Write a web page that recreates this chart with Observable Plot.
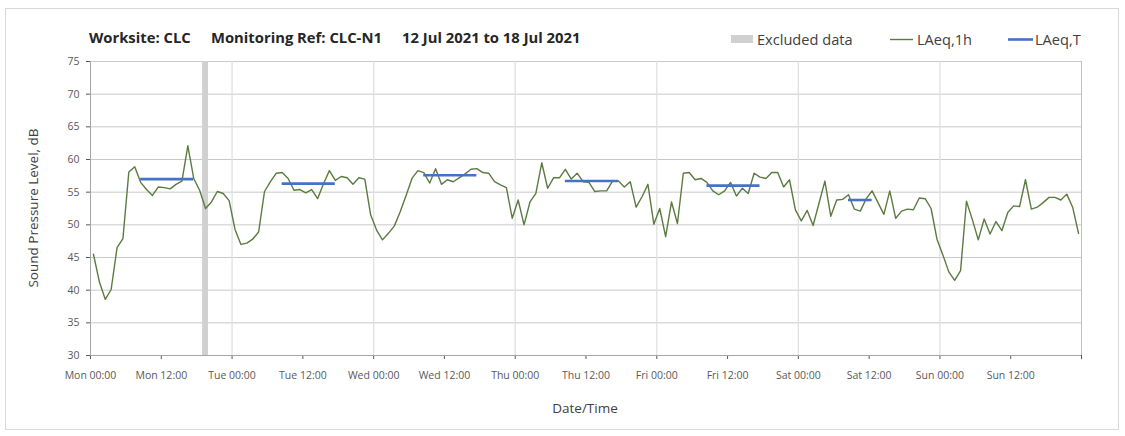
<!DOCTYPE html>
<html>
<head>
<meta charset="utf-8">
<script src="https://cdn.jsdelivr.net/npm/d3@7"></script>
<script src="https://cdn.jsdelivr.net/npm/@observablehq/plot@0.6"></script>
<style>
html, body { margin: 0; padding: 0; background: #fff; }
#wrap { position: relative; width: 1125px; height: 436px; overflow: hidden; font-family: "Open Sans", sans-serif; }
#frame { position: absolute; left: 5px; top: 8px; width: 1114px; height: 422px; border: 1px solid #d9d9d9; box-sizing: border-box; }
#chart { position: absolute; left: 0; top: 0; }
#overlay { position: absolute; left: 0; top: 0; pointer-events: none; }
</style>
</head>
<body>
<div id="wrap">
  <div id="frame"></div>
  <div id="chart"></div>
  <svg id="overlay" width="1125" height="436" xmlns="http://www.w3.org/2000/svg"></svg>
</div>
<script>
// ---- Data ----
const titleParts = ["Worksite: CLC", "Monitoring Ref: CLC-N1", "12 Jul 2021 to 18 Jul 2021"];
const legendLabels = ["Excluded data", "LAeq,1h", "LAeq,T"];
const yTitle = "Sound Pressure Level, dB";
const xTitle = "Date/Time";

// hourly LAeq,1h values, Mon 00:00 .. Sun 23:00 (one per hour)
const laeq1h = [
  45.5, 41.3, 38.6, 40.1, 46.5, 47.9, 58.1, 58.9, 56.5, 55.4, 54.5, 55.8,
  55.7, 55.5, 56.2, 56.7, 62.1, 57.1, 55.3, 52.5, 53.5, 55.1, 54.8, 53.7,
  49.3, 47.0, 47.2, 47.8, 48.9, 55.1, 56.6, 57.9, 58.0, 57.1, 55.3, 55.4,
  54.9, 55.4, 54.0, 56.3, 58.3, 56.8, 57.4, 57.2, 56.2, 57.2, 57.0, 51.5,
  49.2, 47.7, 48.7, 49.8, 52.0, 54.5, 57.1, 58.3, 58.0, 56.4, 58.6, 56.2,
  56.9, 56.6, 57.2, 57.8, 58.5, 58.6, 58.0, 57.9, 56.6, 56.1, 55.7, 51.0,
  53.8, 50.0, 53.5, 54.8, 59.5, 55.6, 57.2, 57.2, 58.5, 57.0, 57.9, 56.6,
  56.5, 55.1, 55.2, 55.2, 56.7, 56.7, 55.8, 56.6, 52.7, 54.3, 56.2, 50.1,
  52.5, 48.2, 53.5, 50.2, 57.9, 58.0, 56.9, 57.1, 56.5, 55.2, 54.6, 55.2,
  56.5, 54.4, 55.6, 54.8, 57.9, 57.3, 57.1, 58.0, 58.0, 55.8, 56.9, 52.3,
  50.6, 52.2, 49.9, 53.3, 56.7, 51.3, 53.8, 53.9, 54.6, 52.4, 52.1, 54.0,
  55.2, 53.4, 51.6, 55.2, 51.0, 52.1, 52.4, 52.3, 54.1, 54.0, 52.5, 47.8,
  45.4, 42.8, 41.5, 43.0, 53.6, 50.8, 47.7, 50.9, 48.6, 50.5, 49.1, 51.9,
  52.9, 52.8, 56.9, 52.4, 52.7, 53.4, 54.2, 54.2, 53.8, 54.7, 52.7, 48.7
];

// LAeq,T periods: start hour / end hour (hours from Mon 00:00) and level
const periodStart = [8, 32, 56, 80, 104, 128];
const periodEnd   = [18, 42, 66, 90, 114, 133];
const periodValue = [57.0, 56.3, 57.6, 56.7, 56.0, 53.8];

// excluded data window (hours from Mon 00:00)
const excludedStart = [19];
const excludedEnd = [20];

const xTickHours = [0, 12, 24, 36, 48, 60, 72, 84, 96, 108, 120, 132, 144, 156, 168];
const xTickLabels = ["Mon 00:00", "Mon 12:00", "Tue 00:00", "Tue 12:00", "Wed 00:00", "Wed 12:00",
  "Thu 00:00", "Thu 12:00", "Fri 00:00", "Fri 12:00", "Sat 00:00", "Sat 12:00",
  "Sun 00:00", "Sun 12:00", ""];
const dayLines = [24, 48, 72, 96, 120, 144];
const yTicks = [30, 35, 40, 45, 50, 55, 60, 65, 70, 75];
const yGrid = [35, 40, 45, 50, 55, 60, 65, 70, 75];

// ---- Build ----
const lineData = laeq1h.map((v, i) => ({ h: i + 0.5, v }));
const periods = periodValue.map((v, i) => ({ x1: periodStart[i] + 0.5, x2: periodEnd[i] - 0.5, v }));
const excluded = excludedStart.map((s, i) => ({ start: s, end: excludedEnd[i] }));

const chart = Plot.plot({
  width: 1125,
  height: 436,
  marginLeft: 90,
  marginRight: 44,
  marginTop: 61,
  marginBottom: 81,
  style: { fontFamily: '"Open Sans", sans-serif', fontSize: "10.5px", color: "#595959", background: "transparent", overflow: "visible" },
  x: { domain: [0, 168], ticks: xTickHours, tickFormat: d => xTickLabels[xTickHours.indexOf(d)] ?? "", tickSize: 4, tickPadding: 12, label: null },
  y: { domain: [30, 75], ticks: yTicks, tickSize: 4, tickPadding: 7, label: null },
  marks: [
    Plot.ruleY(yGrid, { stroke: "#c9c9c9", strokeOpacity: 1 }),
    Plot.ruleX(dayLines, { stroke: "#e0e0e0", strokeWidth: 1.3, strokeOpacity: 1 }),
    Plot.ruleX([168], { stroke: "#bfbfbf", strokeOpacity: 1 }),
    Plot.rect(excluded, { x1: "start", x2: "end", y1: 30, y2: 75, fill: "#d0d0d0" }),
    Plot.ruleX([0], { stroke: "#a6a6a6", strokeOpacity: 1 }),
    Plot.ruleY([30], { stroke: "#a6a6a6", strokeOpacity: 1 }),
    Plot.line(lineData, { x: "h", y: "v", stroke: "#5b7b41", strokeWidth: 1.4 }),
    Plot.ruleY(periods, { x1: "x1", x2: "x2", y: "v", stroke: "#4472c4", strokeWidth: 2.6, strokeOpacity: 1 })
  ]
});
document.getElementById("chart").appendChild(chart);

// ---- Title, legend, axis titles ----
const ov = d3.select("#overlay");
const titleX = [89, 211, 402];
titleParts.forEach((t, i) => {
  ov.append("text").attr("x", titleX[i]).attr("y", 43)
    .attr("font-family", '"Open Sans", sans-serif').attr("font-size", 14.8).attr("font-weight", "bold")
    .attr("fill", "#262626").text(t);
});
// legend
ov.append("rect").attr("x", 731).attr("y", 35).attr("width", 22).attr("height", 8).attr("fill", "#d0d0d0");
ov.append("line").attr("x1", 890).attr("x2", 913).attr("y1", 39.5).attr("y2", 39.5).attr("stroke", "#5b7b41").attr("stroke-width", 1.4);
ov.append("line").attr("x1", 1008).attr("x2", 1033).attr("y1", 39.5).attr("y2", 39.5).attr("stroke", "#4472c4").attr("stroke-width", 2.6);
const legX = [757, 917, 1035];
legendLabels.forEach((t, i) => {
  ov.append("text").attr("x", legX[i]).attr("y", 45)
    .attr("font-family", '"Open Sans", sans-serif').attr("font-size", 14.6)
    .attr("fill", "#404040").text(t);
});
ov.append("text").attr("transform", "translate(38,208) rotate(-90)").attr("text-anchor", "middle")
  .attr("font-family", '"Open Sans", sans-serif').attr("font-size", 13.5).attr("fill", "#404040").text(yTitle);
ov.append("text").attr("x", 585).attr("y", 413).attr("text-anchor", "middle")
  .attr("font-family", '"Open Sans", sans-serif').attr("font-size", 13.5).attr("fill", "#404040").text(xTitle);
</script>
</body>
</html>
